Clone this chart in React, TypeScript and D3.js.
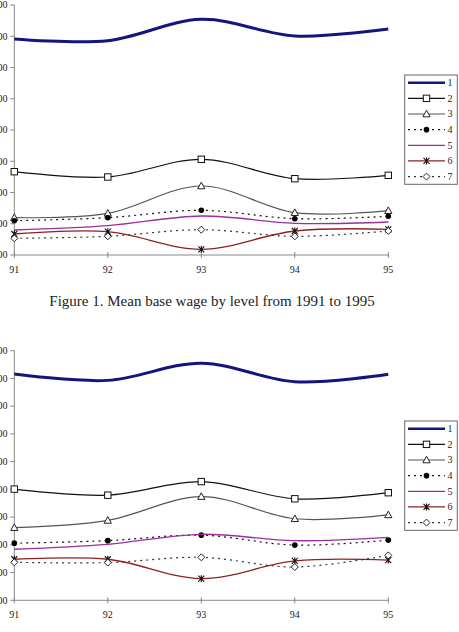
import React from 'react';
import * as d3 from 'd3';

// years on the x axis
const years = ['91', '92', '93', '94', '95'];
const levels = ['1', '2', '3', '4', '5', '6', '7'];

// y tick values (only the tail of each label is visible in the picture)
const ticksTop = [1000, 2000, 3000, 4000, 5000, 6000, 7000, 8000, 9000];
const ticksBottom = [1000, 2000, 3000, 4000, 5000, 6000, 7000, 8000, 9000, 10000];

// figure 1 series
const top1 = [7912, 7858, 8542, 8008, 8232];
const top2 = [3666, 3496, 4062, 3442, 3550];
const top3 = [2194, 2334, 3208, 2354, 2418];
const top4 = [2098, 2194, 2430, 2162, 2238];
const top5 = [1800, 1938, 2248, 2014, 2056];
const top6 = [1672, 1746, 1182, 1768, 1822];
const top7 = [1534, 1598, 1810, 1598, 1768];

// figure 2 series
const bot1 = [9160, 8930, 9550, 8880, 9150];
const bot2 = [5010, 4790, 5280, 4660, 4880];
const bot3 = [3620, 3880, 4740, 3940, 4080];
const bot4 = [3060, 3150, 3350, 2990, 3170];
const bot5 = [2840, 3020, 3380, 3150, 3270];
const bot6 = [2480, 2480, 1780, 2420, 2450];
const bot7 = [2370, 2360, 2550, 2200, 2620];

const caption = 'Figure 1. Mean base wage by level from 1991 to 1995';

const styles = [
  { color: '#14147f', width: 3, dash: null, marker: null },
  { color: '#111', width: 1.2, dash: null, marker: 'square' },
  { color: '#555', width: 1.2, dash: null, marker: 'triangle' },
  { color: '#111', width: 1.2, dash: '2,4', marker: 'dot' },
  { color: '#9b2f9b', width: 1.3, dash: null, marker: null },
  { color: '#8f2020', width: 1.3, dash: null, marker: 'star' },
  { color: '#333', width: 1.2, dash: '2,4', marker: 'diamond' },
];

const font = { fontFamily: "'Liberation Serif', 'DejaVu Serif', serif" };

function Marker({ type, x, y }: { type: string | null; x: number; y: number }) {
  if (type === 'square') {
    return <rect x={x - 3.2} y={y - 3.2} width={6.4} height={6.4} fill="#fff" stroke="#111" strokeWidth={1} />;
  }
  if (type === 'triangle') {
    return <path d={`M${x},${y - 3.8}L${x + 3.6},${y + 2.8}L${x - 3.6},${y + 2.8}Z`} fill="#fff" stroke="#222" strokeWidth={1} />;
  }
  if (type === 'dot') {
    return <circle cx={x} cy={y} r={2.8} fill="#000" />;
  }
  if (type === 'diamond') {
    return <path d={`M${x},${y - 3.5}L${x + 3.5},${y}L${x},${y + 3.5}L${x - 3.5},${y}Z`} fill="#fff" stroke="#222" strokeWidth={1} />;
  }
  if (type === 'star') {
    return (
      <path
        d={`M${x - 3},${y - 3}L${x + 3},${y + 3}M${x + 3},${y - 3}L${x - 3},${y + 3}M${x},${y - 3.5}L${x},${y + 3.5}`}
        stroke="#111" strokeWidth={1.1} fill="none"
      />
    );
  }
  return null;
}

function Chart({ series, ticks, plotTop, plotBottom, legendTop }: {
  series: number[][]; ticks: number[]; plotTop: number; plotBottom: number; legendTop: number;
}) {
  const x = d3.scalePoint().domain(years).range([14.3, 388.3]);
  const y = d3.scaleLinear().domain([ticks[0], ticks[ticks.length - 1]]).range([plotBottom, plotTop]);
  const line = d3.line<number>()
    .x((_, i) => x(years[i]) as number)
    .y(d => y(d))
    .curve(d3.curveCardinal.tension(0));

  const lx = 404.7;
  const step = 15.65;
  return (
    <g>
      {/* axes */}
      <line x1={14.3} x2={14.3} y1={plotTop} y2={plotBottom} stroke="#888" />
      <line x1={14.3} x2={388.3} y1={plotBottom} y2={plotBottom} stroke="#888" />
      {ticks.map(t => (
        <g key={t}>
          <line x1={10.3} x2={14.3} y1={y(t)} y2={y(t)} stroke="#888" />
          <text x={7.5} y={y(t)} dy="0.33em" textAnchor="end" fontSize={10} fill="#222" style={font}>{t}</text>
        </g>
      ))}
      {years.map(yr => (
        <g key={yr}>
          <line x1={x(yr)} x2={x(yr)} y1={plotBottom - 3} y2={plotBottom + 3} stroke="#888" />
          <text x={x(yr)} y={plotBottom + 14.5} dy="0.33em" textAnchor="middle" fontSize={10} fill="#222" style={font}>{yr}</text>
        </g>
      ))}

      {series.map((s, i) => {
        const st = styles[i];
        return (
          <g key={i}>
            <path d={line(s) || ''} fill="none" stroke={st.color} strokeWidth={st.width}
              strokeDasharray={st.dash || undefined} />
            {s.map((v, j) => <Marker key={j} type={st.marker} x={x(years[j]) as number} y={y(v)} />)}
          </g>
        );
      })}

      {/* legend */}
      <rect x={lx} y={legendTop} width={52.6} height={109.3} fill="#fff" stroke="#666" strokeWidth={1} />
      {levels.map((lv, i) => {
        const st = styles[i];
        const cy = legendTop + 7.7 + i * step;
        return (
          <g key={lv}>
            <line x1={408} x2={445} y1={cy} y2={cy} stroke={st.color} strokeWidth={st.width === 3 ? 2.5 : st.width}
              strokeDasharray={st.dash || undefined} />
            <Marker type={st.marker} x={426.5} y={cy} />
            <text x={447.5} y={cy} dy="0.33em" fontSize={10} fill="#222" style={font}>{lv}</text>
          </g>
        );
      })}
    </g>
  );
}

export default function App() {
  return (
    <svg width={459} height={632} style={{ position: 'absolute', left: 0, top: 0, background: '#fff' }}>
      <rect width={459} height={632} fill="#fff" />
      <Chart series={[top1, top2, top3, top4, top5, top6, top7]} ticks={ticksTop}
        plotTop={5} plotBottom={255} legendTop={75} />
      <text x={212} y={306} textAnchor="middle" fontSize={15} fill="#222" style={font}>{caption}</text>
      <Chart series={[bot1, bot2, bot3, bot4, bot5, bot6, bot7]} ticks={ticksBottom}
        plotTop={350.7} plotBottom={600.3} legendTop={421} />
    </svg>
  );
}
